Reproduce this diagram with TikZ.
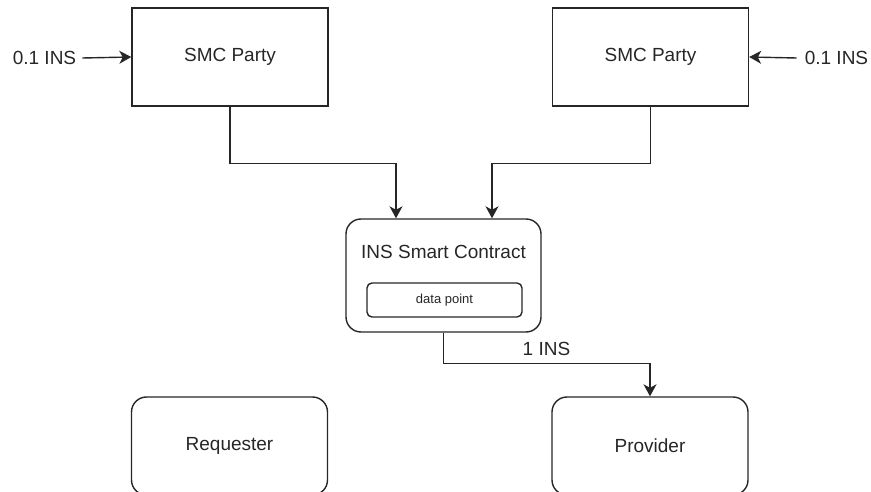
\documentclass[tikz,border=0pt]{standalone}
\usepackage{fontspec}
\setmainfont{Liberation Sans}
\usetikzlibrary{arrows.meta}
\begin{document}
\begin{tikzpicture}[x=1pt,y=-1pt,
  lw/.style={line width=1.4pt, draw=black!85},
  box/.style={lw, minimum width=196pt, minimum height=98pt, inner sep=0pt, font=\fontsize{19}{23}\selectfont, text=black!85},
  rbox/.style={box, rounded corners=15pt},
  lbl/.style={inner sep=0pt, font=\fontsize{19}{23}\selectfont, text=black!85},
  arr/.style={lw, -{Stealth[length=12pt,width=13pt,inset=3.5pt]}}
]
\useasboundingbox (0,0) rectangle (871,492);
\clip (0,0) rectangle (871,492);

\node[box] (smcL) at (230,57) {SMC Party};
\node[box] (smcR) at (650.5,57) {SMC Party};

\node[lbl] (inL) at (44.5,58) {0.1 INS};
\node[lbl] (inR) at (836.5,58) {0.1 INS};

\node[rbox, minimum width=195pt, minimum height=113pt] (contract) at (443.5,275.5) {};
\node[lbl] (ctitle) at (443.5,252) {INS Smart Contract};
\node[lw, rounded corners=5pt, minimum width=155pt, minimum height=34pt, inner sep=0pt, font=\fontsize{13}{15}\selectfont, text=black!85] (dp) at (444.5,300) {data point};

\node[rbox] (req) at (229.5,446) {Requester};
\node[rbox] (prov) at (650,446) {Provider};

\draw[arr] ([xshift=6pt]inL.east) coordinate (aL) -- (smcL.west);
\draw[arr] ([xshift=-8pt]inR.west) coordinate (aR) -- (smcR.east);

\draw[arr] (smcL.south) -- ++(0,57) -| ([xshift=-47.5pt]contract.north);
\draw[arr] (smcR.south) -- ++(0,57) -| ([xshift=48.5pt]contract.north);
\draw[arr] (contract.south) -- ++(0,31) -| (prov.north);

\node[lbl] (pay) at (546.5,349) {1 INS};
\end{tikzpicture}
\end{document}
